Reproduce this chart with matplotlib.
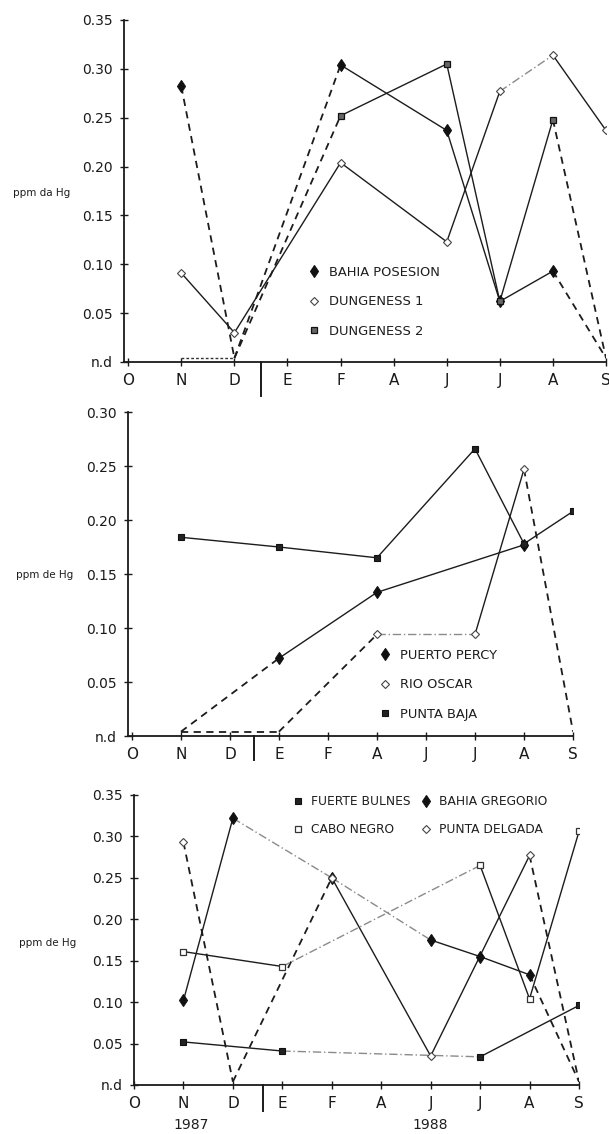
import matplotlib
matplotlib.use('Agg')
import matplotlib.pyplot as plt
from matplotlib.lines import Line2D

plt.rcParams['font.family'] = ['Liberation Sans Narrow', 'DejaVu Sans']

ND = 0.004  # "n.d" values sit just on the axis

months = ['O', 'N', 'D', 'E', 'F', 'A', 'J', 'J', 'A', 'S']

# panel 1
bahia_posesion = [None, 0.282, ND, None, 0.304, None, 0.237, 0.062, 0.093, ND]
dungeness_1 = [None, 0.091, 0.030, None, 0.204, None, 0.123, 0.277, 0.314, 0.237]
dungeness_2 = [None, ND, ND, None, 0.252, None, 0.305, 0.062, 0.248, ND]

# panel 2
puerto_percy = [None, ND, None, 0.072, None, 0.133, None, None, 0.177, None]
rio_oscar = [None, ND, None, ND, None, 0.094, None, 0.094, 0.247, ND]
punta_baja = [None, 0.184, None, 0.175, None, 0.165, None, 0.266, 0.178, 0.208]

# panel 3
fuerte_bulnes = [None, 0.052, None, 0.041, None, None, None, 0.034, None, 0.096]
bahia_gregorio = [None, 0.102, 0.322, None, 0.250, None, 0.175, 0.155, 0.133, ND]
punta_delgada = [None, 0.293, ND, None, 0.250, None, 0.035, None, 0.277, ND]
cabo_negro = [None, 0.161, None, 0.143, None, None, None, 0.265, 0.104, 0.306]

years = ['1987', '1988']
year_pos = [1.15, 6.0]

# segment styles: '-' solid, '--' dashed, '-.' faint dash-dot, ':' dotted
STYLES = {
    '-': dict(color='#1c1c1c', lw=1.0, ls='-'),
    '--': dict(color='#1c1c1c', lw=1.3, ls=(0, (4, 3))),
    '-.': dict(color='#8a8a8a', lw=1.0, ls=(0, (6, 2, 1, 2))),
    ':': dict(color='#333333', lw=1.0, ls=(0, (2, 1.5))),
}

MK = {
    'fdiam': dict(marker='d', ms=6, mfc='#111', mec='#111', mew=0.8),
    'odiam': dict(marker='D', ms=4, mfc='white', mec='#444', mew=0.8),
    'fsq': dict(marker='s', ms=5, mfc='#222', mec='#111', mew=0.8),
    'gsq': dict(marker='s', ms=5, mfc='#666', mec='#111', mew=0.9),
    'osq': dict(marker='s', ms=5, mfc='white', mec='#333', mew=0.9),
}

TXT = '#1e1e1e'


def draw_series(ax, vals, segs, mk):
    pts = [(i, v) for i, v in enumerate(vals) if v is not None]
    for k in range(len(pts) - 1):
        (x0, y0), (x1, y1) = pts[k], pts[k + 1]
        ax.plot([x0, x1], [y0, y1], solid_capstyle='butt', **STYLES[segs[k]])
    xs = [p[0] for p in pts if p[1] > 0.01]
    ys = [p[1] for p in pts if p[1] > 0.01]
    ax.plot(xs, ys, ls='none', zorder=3, **MK[mk])


def setup(ax, ytop, ylab, ylab_xy, sep_x, sep_len, xlim):
    ax.set_xlim(*xlim)
    ax.set_ylim(0, ytop)
    for s in ['top', 'right']:
        ax.spines[s].set_visible(False)
    for s in ['left', 'bottom']:
        ax.spines[s].set_linewidth(1.3)
        ax.spines[s].set_color('#1a1a1a')
    ticks = [round(0.05 * k, 2) for k in range(int(round(ytop / 0.05)) + 1)]
    ax.set_yticks(ticks)
    ax.set_yticklabels(['n.d'] + ['%.2f' % t for t in ticks[1:]])
    ax.set_xticks(range(len(months)))
    ax.set_xticklabels(months)
    ax.tick_params(axis='y', direction='inout', length=6, width=1, pad=5,
                   labelsize=10, colors='#1a1a1a')
    ax.tick_params(axis='x', direction='inout', length=6, width=1, pad=5,
                   labelsize=11, colors='#1a1a1a')
    ax.set_ylabel(ylab, rotation=0, fontsize=7.5, color=TXT, ha='center', va='center')
    ax.yaxis.set_label_coords(*ylab_xy)
    tr = ax.get_xaxis_transform()
    ax.plot([sep_x, sep_x], [0, -sep_len], transform=tr, color='#1a1a1a',
            lw=1.4, clip_on=False)


def legend(ax, fig, entries, left, top, size=9.4):
    handles = [Line2D([], [], ls='none', **MK[m]) for _, m in entries]
    lg = fig.legend(handles, [n for n, _ in entries], loc='upper left',
                    bbox_to_anchor=(left / 609, 1 - top / 1134),
                    bbox_transform=fig.transFigure, frameon=False,
                    borderpad=0, borderaxespad=0, handlelength=0.8,
                    handletextpad=0.7, labelspacing=1.25, numpoints=1,
                    prop=dict(family=['Liberation Sans Narrow', 'DejaVu Sans'], size=size))
    for t in lg.get_texts():
        t.set_color(TXT)
    return lg


fig = plt.figure(figsize=(6.09, 11.34), dpi=100)
W, H = 609, 1134


def make_ax(l, r, top, bot):
    return fig.add_axes([l / W, 1 - bot / H, (r - l) / W, (bot - top) / H])


# ---- panel 1
ax1 = make_ax(124, 606, 20, 362)
draw_series(ax1, bahia_posesion, ['--', '--', '-', '-', '-', '--'], 'fdiam')
draw_series(ax1, dungeness_1, ['-', '-', '-', '-', '-.', '-'], 'odiam')
draw_series(ax1, dungeness_2, [':', '--', '-', '-', '-', '--'], 'gsq')
setup(ax1, 0.35, 'ppm da Hg', (-0.17, 0.494), 2.5, 0.1, (-0.08, 9.0))
legend(ax1, fig, [('BAHIA POSESION', 'fdiam'), ('DUNGENESS 1', 'odiam'),
                  ('DUNGENESS 2', 'gsq')], 309, 266)

# ---- panel 2
ax2 = make_ax(128, 573, 412, 736)
draw_series(ax2, puerto_percy, ['--', '-', '-'], 'fdiam')
draw_series(ax2, rio_oscar, ['--', '--', '-.', '-', '--'], 'odiam')
draw_series(ax2, punta_baja, ['-', '-', '-', '-', '-'], 'fsq')
setup(ax2, 0.30, 'ppm de Hg', (-0.187, 0.497), 2.5, 0.075, (-0.08, 9.0))
legend(ax2, fig, [('PUERTO PERCY', 'fdiam'), ('RIO OSCAR', 'odiam'),
                  ('PUNTA BAJA', 'fsq')], 380, 649)

# ---- panel 3
ax3 = make_ax(134, 579, 795, 1085)
draw_series(ax3, fuerte_bulnes, ['-', '-.', '-'], 'fsq')
draw_series(ax3, bahia_gregorio, ['-', '-.', '-.', '-', '-', '--'], 'fdiam')
draw_series(ax3, punta_delgada, ['--', '--', '-', '-', '--'], 'odiam')
draw_series(ax3, cabo_negro, ['-', '-.', '-', '-'], 'osq')
setup(ax3, 0.35, 'ppm de Hg', (-0.193, 0.49), 2.6, 0.09, (0.0, 9.0))
legend(ax3, fig, [('FUERTE BULNES', 'fsq'), ('CABO NEGRO', 'osq')], 293, 795, 8.8)
legend(ax3, fig, [('BAHIA GREGORIO', 'fdiam'), ('PUNTA DELGADA', 'odiam')], 421, 795, 8.8)
for yr, xp in zip(years, year_pos):
    ax3.text(xp, -0.138, yr, transform=ax3.get_xaxis_transform(), ha='center',
             va='center', fontsize=10, color=TXT)

fig.savefig('out.png', dpi=100, facecolor='white')
